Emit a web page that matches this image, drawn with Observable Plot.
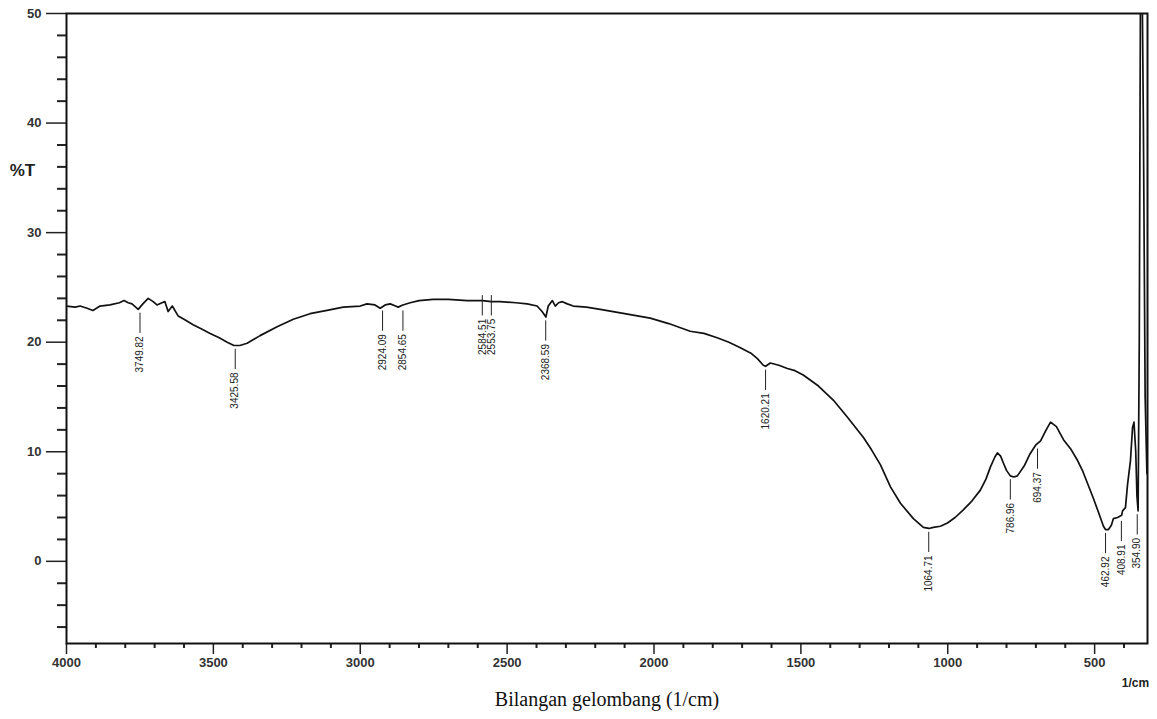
<!DOCTYPE html>
<html><head><meta charset="utf-8">
<script src="https://cdn.jsdelivr.net/npm/d3@7"></script>
<script src="https://cdn.jsdelivr.net/npm/@observablehq/plot@0.6"></script>
<style>body{margin:0;background:#fff} #chart{width:1157px;height:719px}</style>
</head><body><div id="chart"></div>
<script>
// FTIR spectrum (wavenumber in 1/cm, %T)
const wavenumber = [4000,3970,3954,3930,3910,3886,3852,3820,3804,3790,3777,3756,3740,3722,3705,3692,3675,3665,3654,3640,3620,3600,3569,3540,3511,3480,3453,3430,3410,3385,3341,3283,3228,3171,3113,3058,3000,2977,2950,2932,2915,2898,2880,2871,2855,2830,2800,2752,2700,2636,2584,2554,2524,2470,2432,2398,2381,2368,2360,2346,2336,2325,2312,2295,2275,2230,2183,2100,2013,1950,1877,1830,1785,1745,1706,1670,1648,1628,1620,1604,1575,1546,1520,1492,1440,1389,1340,1287,1260,1229,1195,1161,1117,1083,1064,1049,1025,1001,975,947,918,889,870,855,840,831,820,811,800,787,775,763,740,720,701,684,665,650,630,606,580,558,540,524,505,490,470,463,453,443,436,422,408,405,395,388,378,371,366,360,356,352,348,344,340,334,328,322];
const transmittance = [23.3,23.2,23.3,23.1,22.9,23.3,23.4,23.6,23.8,23.6,23.5,23.0,23.5,24.0,23.7,23.4,23.6,23.7,22.8,23.3,22.4,22.1,21.6,21.2,20.8,20.4,20.0,19.7,19.7,19.9,20.6,21.4,22.1,22.6,22.9,23.2,23.3,23.5,23.4,23.1,23.4,23.5,23.3,23.2,23.4,23.6,23.8,23.9,23.9,23.8,23.8,23.7,23.7,23.6,23.5,23.3,22.8,22.3,23.3,23.8,23.3,23.6,23.7,23.5,23.3,23.2,23.0,22.6,22.2,21.7,21.0,20.8,20.4,20.0,19.5,19.0,18.5,17.9,17.8,18.1,17.9,17.6,17.4,17.0,16.0,14.7,13.1,11.3,10.2,8.8,6.8,5.3,3.9,3.1,3.0,3.1,3.2,3.5,4.0,4.7,5.5,6.5,7.5,8.6,9.5,9.9,9.6,9.0,8.3,7.8,7.7,7.8,8.7,9.8,10.6,11.0,12.0,12.7,12.3,11.1,10.2,9.2,8.2,7.1,5.8,4.7,3.2,2.9,2.9,3.3,3.9,4.0,4.2,4.6,4.9,7.0,9.2,12.2,12.7,10.0,6.0,4.6,20.0,52.0,58.0,40.0,15.0,8.0,6.0];

// peak annotations
const peakWavenumber = [3749.82,3425.58,2924.09,2854.65,2584.51,2553.75,2368.59,1620.21,1064.71,786.96,694.37,462.92,408.91,354.90];
const peakLabel = ["3749.82","3425.58","2924.09","2854.65","2584.51","2553.75","2368.59","1620.21","1064.71","786.96","694.37","462.92","408.91","354.90"];
const peakT = [23.0,19.7,23.2,23.2,24.6,24.6,22.3,17.8,3.0,7.8,10.6,2.9,4.0,4.6];

const xMajorTicks = [4000,3500,3000,2500,2000,1500,1000,500];
const xMinorTicks = d3.range(3900, 399, -100).filter(v => v % 500 !== 0);
const yMajorTicks = [0,10,20,30,40,50];
const yMinorTicks = d3.range(-6, 50, 2).filter(v => v % 10 !== 0);

const spectrum = wavenumber.map((w, i) => ({w, t: transmittance[i]}));
const peaks = peakWavenumber.map((w, i) => ({w, label: peakLabel[i], t: peakT[i]}));

const tickFont = {fontFamily: "Liberation Sans, Arial, sans-serif", fontWeight: "bold", fontSize: 13, fill: "#333"};

const chart = Plot.plot({
  width: 1157,
  height: 719,
  marginLeft: 66,
  marginRight: 10,
  marginTop: 13,
  marginBottom: 76,
  style: {background: "#fff", fontFamily: "Liberation Sans, Arial, sans-serif", color: "#222"},
  x: {domain: [4000, 320], label: null},
  y: {domain: [-7.5, 50], label: null},
  marks: [
    Plot.axisY({ticks: yMinorTicks, tickSize: 9, text: null, strokeWidth: 2}),
    Plot.axisY({ticks: yMajorTicks, tickSize: 20, tickPadding: 5, tickFormat: "d", strokeWidth: 1.5, ...tickFont}),
    Plot.axisX({ticks: xMinorTicks, tickSize: 5, text: null, strokeWidth: 2}),
    Plot.axisX({ticks: xMajorTicks, tickSize: 11, tickPadding: 3, tickFormat: "d", strokeWidth: 1.5, ...tickFont}),
    Plot.line(spectrum, {x: "w", y: "t", stroke: "#111", strokeWidth: 1.7, clip: true, curve: "linear"}),
    Plot.ruleX(peaks, {x: "w", y1: d => d.t - 0.35, y2: d => d.t - 2.2, stroke: "#222", strokeWidth: 1}),
    Plot.text(peaks, {x: "w", y: "t", text: "label", rotate: -90, textAnchor: "end", lineAnchor: "middle", dy: 27, fontSize: 10, fill: "#222", fontFamily: "Liberation Sans Narrow, Liberation Sans, Arial, sans-serif"}),
    Plot.frame({stroke: "#111", strokeWidth: 2}),
    Plot.text([35.7], {y: d => d, text: () => "%T", frameAnchor: "left", dx: -44, textAnchor: "middle", fontSize: 17, fontWeight: "bold", fill: "#222"}),
    Plot.text(["1/cm"], {text: d => d, frameAnchor: "bottom-right", dx: -12, dy: 43, textAnchor: "middle", fontSize: 12, fontWeight: "bold", fill: "#222"}),
    Plot.text(["Bilangan gelombang (1/cm)"], {text: d => d, frameAnchor: "bottom", dy: 62, fontSize: 20, fill: "#111", fontFamily: "Liberation Serif, Times New Roman, serif"})
  ]
});
document.getElementById("chart").append(chart);
</script>
</body></html>
